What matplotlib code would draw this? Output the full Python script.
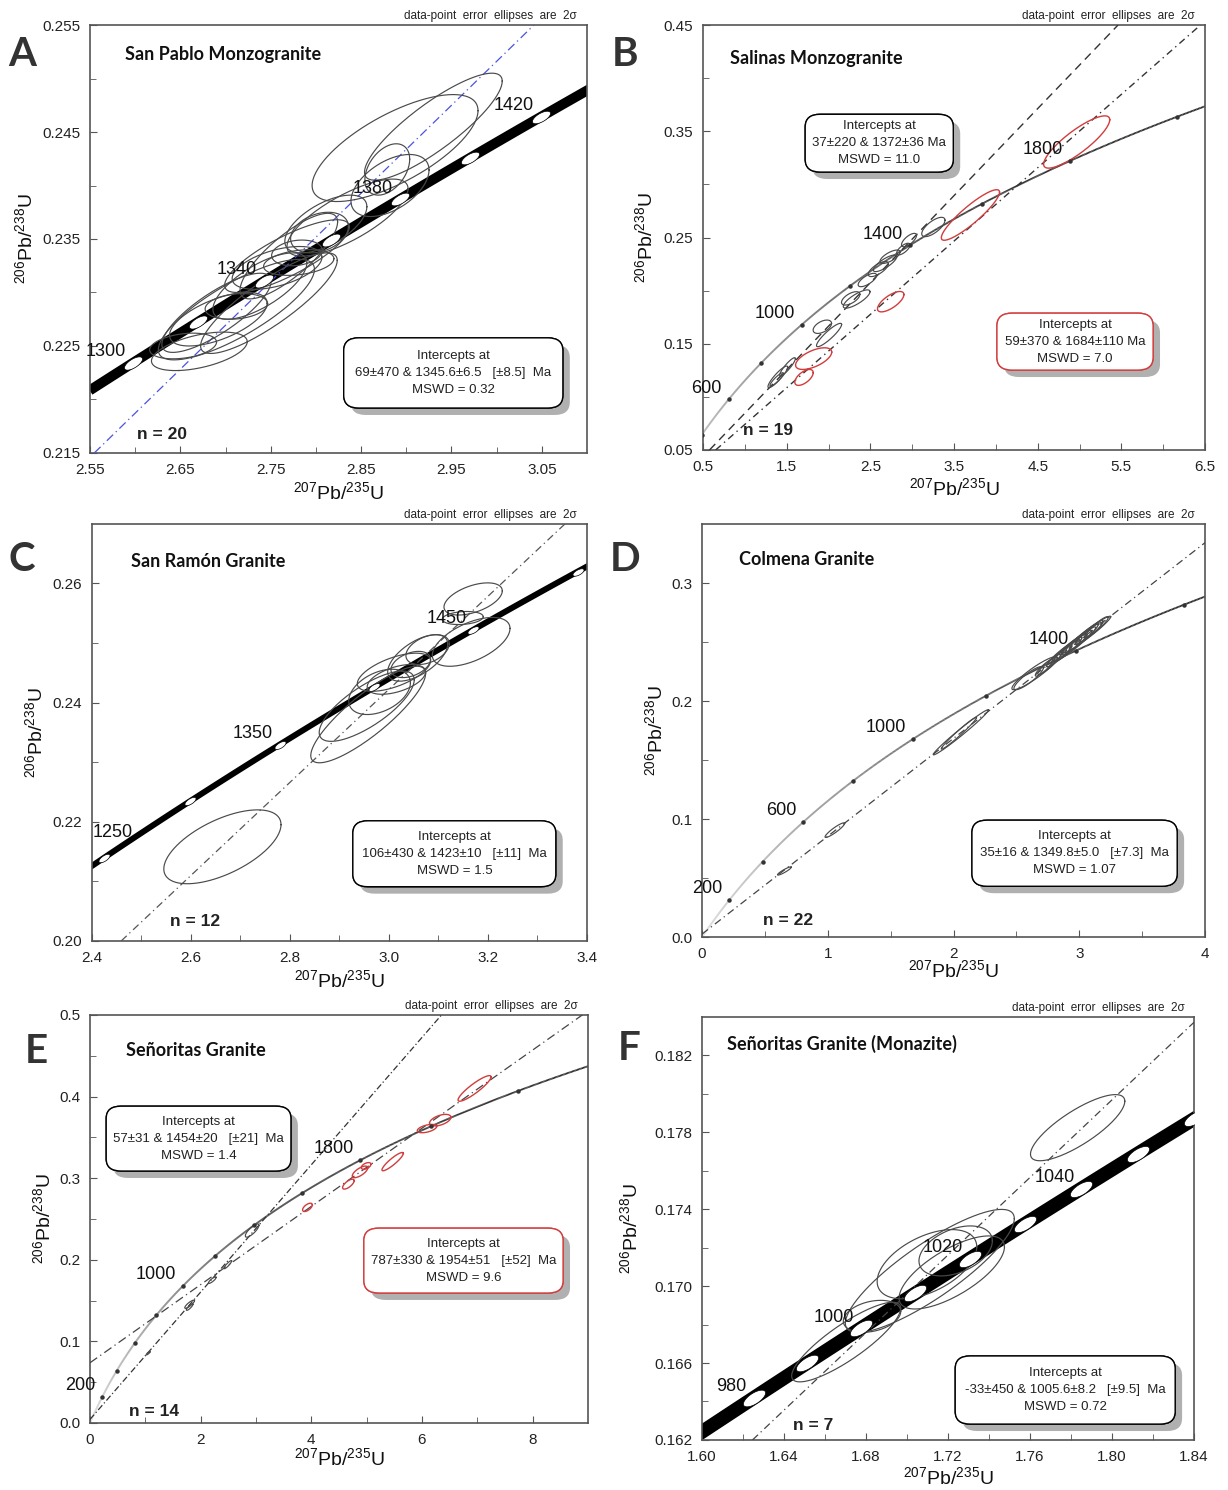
import numpy as np
import matplotlib
matplotlib.use("Agg")
import matplotlib.pyplot as plt
import matplotlib.patheffects as pe
from matplotlib import font_manager
from matplotlib.collections import LineCollection
from matplotlib.patches import FancyBboxPatch
from matplotlib.path import Path

# U decay constants (1/yr)
L238 = 1.55125e-10
L235 = 9.8485e-10

_names = {f.name for f in font_manager.fontManager.ttflist}
NARROW = "Liberation Sans Narrow" if "Liberation Sans Narrow" in _names else "Liberation Sans"
plt.rcParams["font.family"] = ["Liberation Sans", "DejaVu Sans"]
plt.rcParams["mathtext.fontset"] = "custom"
plt.rcParams["mathtext.rm"] = "Liberation Sans"
plt.rcParams["mathtext.it"] = "Liberation Sans:italic"

# ---------------- data ----------------
# ellipses: (207/235, 206/238, 2s x, 2s y, rho)
A_ell = [(2.8876, 0.2435, 0.0918, 0.0050, 0.70), (2.930, 0.2455, 0.0762, 0.0050, 0.85),
         (2.879, 0.2415, 0.0248, 0.0024, 0.40), (2.882, 0.2400, 0.0432, 0.0029, 0.50),
         (2.835, 0.2370, 0.0670, 0.0036, 0.75), (2.811, 0.2364, 0.0454, 0.0027, 0.60),
         (2.804, 0.2356, 0.0320, 0.0019, 0.30), (2.768, 0.2334, 0.0690, 0.0034, 0.80),
         (2.757, 0.2323, 0.0497, 0.0020, 0.50), (2.781, 0.2328, 0.0389, 0.0012, 0.30),
         (2.779, 0.2337, 0.0280, 0.0012, 0.20), (2.748, 0.2290, 0.0756, 0.0047, 0.85),
         (2.738, 0.2306, 0.0520, 0.0031, 0.70), (2.712, 0.2287, 0.0346, 0.0012, 0.20),
         (2.690, 0.2281, 0.0605, 0.0037, 0.80), (2.692, 0.2275, 0.0540, 0.0025, 0.60),
         (2.671, 0.2245, 0.0530, 0.0018, 0.50), (2.712, 0.2284, 0.0864, 0.0047, 0.80),
         (2.770, 0.2334, 0.0540, 0.0040, 0.80), (2.653, 0.2250, 0.0370, 0.0012, 0.30)]

B_ell = [(3.253, 0.2599, 0.139, 0.0091, 0.70), (2.962, 0.2476, 0.090, 0.0063, 0.70),
         (2.894, 0.2391, 0.080, 0.0055, 0.70), (2.735, 0.2319, 0.120, 0.0063, 0.70),
         (2.675, 0.2257, 0.140, 0.0078, 0.80), (2.595, 0.2203, 0.120, 0.0071, 0.70),
         (2.464, 0.2100, 0.110, 0.0063, 0.70), (2.336, 0.1921, 0.160, 0.0086, 0.80),
         (2.265, 0.1927, 0.110, 0.0063, 0.60), (1.926, 0.1660, 0.110, 0.0063, 0.50),
         (2.006, 0.1582, 0.150, 0.0110, 0.90), (1.394, 0.1188, 0.118, 0.0102, 0.90),
         (1.380, 0.1164, 0.080, 0.0063, 0.90), (1.510, 0.1283, 0.094, 0.0086, 0.90)]
B_red = [(4.966, 0.3399, 0.395, 0.0246, 0.85), (3.696, 0.2712, 0.348, 0.0238, 0.90),
         (2.743, 0.1896, 0.158, 0.0096, 0.70), (1.822, 0.1360, 0.216, 0.0102, 0.60),
         (1.707, 0.1183, 0.110, 0.0075, 0.60)]

C_ell = [(2.6635, 0.2158, 0.1184, 0.0062, 0.60), (3.170, 0.2574, 0.0589, 0.0027, 0.50),
         (3.149, 0.2542, 0.0414, 0.0011, 0.20), (3.166, 0.2502, 0.0785, 0.0041, 0.55),
         (3.078, 0.2489, 0.0438, 0.0025, 0.40), (3.058, 0.2475, 0.0606, 0.0039, 0.60),
         (3.010, 0.2451, 0.0740, 0.0032, 0.60), (2.981, 0.2418, 0.0623, 0.0038, 0.40),
         (3.015, 0.2439, 0.0590, 0.0025, 0.50), (2.955, 0.2394, 0.0960, 0.0059, 0.75),
         (2.958, 0.2380, 0.1160, 0.0081, 0.85), (3.044, 0.2464, 0.0400, 0.0022, 0.40)]

D_ell = [(0.655, 0.0560, 0.055, 0.0035, 0.92), (1.056, 0.0906, 0.078, 0.0062, 0.92),
         (2.058, 0.1735, 0.219, 0.0191, 0.985), (2.042, 0.1727, 0.140, 0.0135, 0.98),
         (2.644, 0.2236, 0.180, 0.0140, 0.92), (2.597, 0.2194, 0.117, 0.0099, 0.88),
         (2.72, 0.2281, 0.07, 0.0070, 0.90), (2.76, 0.2310, 0.09, 0.0085, 0.92),
         (2.80, 0.2350, 0.06, 0.0060, 0.90), (2.84, 0.2385, 0.10, 0.0095, 0.93),
         (2.87, 0.2402, 0.07, 0.0065, 0.90), (2.90, 0.2432, 0.12, 0.0110, 0.94),
         (2.93, 0.2450, 0.08, 0.0070, 0.90), (2.96, 0.2482, 0.10, 0.0090, 0.92),
         (2.99, 0.2500, 0.07, 0.0065, 0.90), (3.02, 0.2533, 0.13, 0.0120, 0.95),
         (3.05, 0.2553, 0.08, 0.0075, 0.92), (3.08, 0.2582, 0.11, 0.0100, 0.93),
         (3.11, 0.2600, 0.07, 0.0065, 0.90), (3.06, 0.2563, 0.19, 0.0156, 0.97),
         (2.95, 0.2470, 0.15, 0.0130, 0.95), (3.14, 0.2630, 0.09, 0.0085, 0.92)]

E_ell = [(2.93, 0.2358, 0.123, 0.0081, 0.80), (2.49, 0.1940, 0.070, 0.0050, 0.90),
         (2.21, 0.1750, 0.070, 0.0040, 0.85), (1.80, 0.1455, 0.088, 0.0050, 0.85),
         (1.80, 0.1420, 0.060, 0.0040, 0.85), (1.05, 0.0854, 0.035, 0.0020, 0.85)]
E_red = [(3.93, 0.2642, 0.088, 0.0051, 0.60), (4.67, 0.2927, 0.105, 0.0061, 0.70),
         (4.88, 0.3077, 0.140, 0.0071, 0.70), (4.99, 0.3150, 0.088, 0.0041, 0.50),
         (5.47, 0.3203, 0.193, 0.0112, 0.90), (6.09, 0.3608, 0.175, 0.0051, 0.50),
         (6.33, 0.3711, 0.193, 0.0071, 0.50), (6.95, 0.4100, 0.298, 0.0157, 0.90)]

F_ell = [(1.7832, 0.17824, 0.0230, 0.00172, 0.80), (1.6703, 0.16709, 0.0266, 0.00207, 0.85),
         (1.7111, 0.17079, 0.0412, 0.00320, 0.85), (1.7097, 0.17114, 0.0243, 0.00180, 0.50),
         (1.7237, 0.17183, 0.0179, 0.00130, 0.40), (1.7218, 0.17071, 0.0257, 0.00190, 0.70),
         (1.6829, 0.16843, 0.0140, 0.00083, 0.30)]

# discordia intercepts (Ma)
A_icpt = [(69, 1345.6)]
B_icpt = [(37, 1372), (59, 1684)]
C_icpt = [(106, 1423)]
D_icpt = [(35, 1349.8)]
E_icpt = [(57, 1454), (787, 1954)]
F_icpt = [(-33, 1005.6)]

# age ticks and labels on concordia (Ma)
A_ticks = [1300, 1320, 1340, 1360, 1380, 1400, 1420, 1440]
A_labels = [1300, 1340, 1380, 1420]
B_ticks = [200, 400, 600, 800, 1000, 1200, 1400, 1600, 1800, 2000, 2200]
B_labels = [600, 1000, 1400, 1800]
C_ticks = [1250, 1300, 1350, 1400, 1450, 1500]
C_labels = [1250, 1350, 1450]
D_ticks = [200, 400, 600, 800, 1000, 1200, 1400, 1600, 1800]
D_labels = [200, 600, 1000, 1400]
E_ticks = [200, 400, 600, 800, 1000, 1200, 1400, 1600, 1800, 2000, 2200, 2400]
E_labels = [200, 1000, 1800]
F_ticks = [980, 990, 1000, 1010, 1020, 1030, 1040, 1050, 1060]
F_labels = [980, 1000, 1020, 1040]

# axis ticks
A_xt = [2.55, 2.65, 2.75, 2.85, 2.95, 3.05]
A_xm = [2.60, 2.70, 2.80, 2.90, 3.00]
A_yt = [0.215, 0.225, 0.235, 0.245, 0.255]
A_ym = [0.220, 0.230, 0.240, 0.250]
B_xt = [0.5, 1.5, 2.5, 3.5, 4.5, 5.5, 6.5]
B_xm = [1, 2, 3, 4, 5, 6]
B_yt = [0.05, 0.15, 0.25, 0.35, 0.45]
B_ym = [0.10, 0.20, 0.30, 0.40]
C_xt = [2.4, 2.6, 2.8, 3.0, 3.2, 3.4]
C_xm = [2.5, 2.7, 2.9, 3.1, 3.3]
C_yt = [0.20, 0.22, 0.24, 0.26]
C_ym = [0.21, 0.23, 0.25]
D_xt = [0, 1, 2, 3, 4]
D_xm = [0.5, 1.5, 2.5, 3.5]
D_yt = [0.0, 0.1, 0.2, 0.3]
D_ym = [0.05, 0.15, 0.25]
E_xt = [0, 2, 4, 6, 8]
E_xm = [1, 3, 5, 7]
E_yt = [0.0, 0.1, 0.2, 0.3, 0.4, 0.5]
E_ym = [0.05, 0.15, 0.25, 0.35, 0.45]
F_xt = [1.60, 1.64, 1.68, 1.72, 1.76, 1.80, 1.84]
F_xm = [1.62, 1.66, 1.70, 1.74, 1.78, 1.82]
F_yt = [0.162, 0.166, 0.170, 0.174, 0.178, 0.182]
F_ym = [0.164, 0.168, 0.172, 0.176, 0.180]

A_box = [["Intercepts at", "69±470 & 1345.6±6.5   [±8.5]  Ma", "MSWD = 0.32"]]
B_box = [["Intercepts at", "37±220 & 1372±36 Ma", "MSWD = 11.0"],
         ["Intercepts at", "59±370 & 1684±110 Ma", "MSWD = 7.0"]]
C_box = [["Intercepts at", "106±430 & 1423±10   [±11]  Ma", "MSWD = 1.5"]]
D_box = [["Intercepts at", "35±16 & 1349.8±5.0   [±7.3]  Ma", "MSWD = 1.07"]]
E_box = [["Intercepts at", "57±31 & 1454±20   [±21]  Ma", "MSWD = 1.4"],
         ["Intercepts at", "787±330 & 1954±51   [±52]  Ma", "MSWD = 9.6"]]
F_box = [["Intercepts at", "-33±450 & 1005.6±8.2   [±9.5]  Ma", "MSWD = 0.72"]]


def conc(t_ma):
    t = np.asarray(t_ma, dtype=float) * 1e6
    return np.exp(L235 * t) - 1, np.exp(L238 * t) - 1


def ellipse_xy(x, y, ex, ey, rho):
    th = np.linspace(0, 2 * np.pi, 160)
    return x + ex * np.cos(th), y + ey * (rho * np.cos(th) + np.sqrt(1 - rho ** 2) * np.sin(th))


def oval(angle, aspect=0.42):
    th = np.linspace(0, 2 * np.pi, 41)
    u, v = np.cos(th), aspect * np.sin(th)
    a = np.radians(angle)
    return Path(np.column_stack([u * np.cos(a) - v * np.sin(a), u * np.sin(a) + v * np.cos(a)]))


RED = "#d23c3c"
fig = plt.figure(figsize=(12.28, 14.90), dpi=100)
renderer = fig.canvas.get_renderer()

panels = [
    dict(key="A", pos=[0.0733, 0.6960, 0.4047, 0.2872], xlim=(2.55, 3.10), ylim=(0.215, 0.255),
         xt=A_xt, xm=A_xm, yt=A_yt, ym=A_ym, xf="%.2f", yf="%.3f",
         ell=A_ell, red=[], icpt=A_icpt, lines=[dict(color="#4a52e0", ls=(0, (7, 3, 1, 3)), lw=0.9)],
         ticks=A_ticks, labels=A_labels, band=7.2, oval_ms=13,
         title="San Pablo Monzogranite", tpos=(0.070, 0.930), n="n = 20", npos=(0.095, 0.044),
         boxes=A_box, bpos=[(0.731, 0.187, 0.441, 0.164, "k")],
         letter_xy=(0.0179, 0.9631), ylc=-0.131, xlc=-0.091),
    dict(key="B", pos=[0.5725, 0.6980, 0.4088, 0.2852], xlim=(0.5, 6.5), ylim=(0.05, 0.45),
         xt=B_xt, xm=B_xm, yt=B_yt, ym=B_ym, xf="%.1f", yf="%.2f",
         ell=B_ell, red=B_red, icpt=B_icpt,
         lines=[dict(color="#333333", ls=(0, (6, 4)), lw=1.0),
                dict(color="#333333", ls=(0, (5, 3, 1, 3)), lw=1.0)],
         ticks=B_ticks, labels=B_labels, band=None,
         title="Salinas Monzogranite", tpos=(0.054, 0.922), n="n = 19", npos=(0.080, 0.047),
         boxes=B_box, bpos=[(0.351, 0.722, 0.295, 0.136, "k"), (0.741, 0.255, 0.311, 0.134, RED)],
         letter_xy=(0.509, 0.9631), ylc=-0.116, xlc=-0.089),
    dict(key="C", pos=[0.0749, 0.3685, 0.4031, 0.2799], xlim=(2.4, 3.4), ylim=(0.20, 0.27),
         xt=C_xt, xm=C_xm, yt=C_yt, ym=C_ym, xf="%.1f", yf="%.2f",
         ell=C_ell, red=[], icpt=C_icpt, lines=[dict(color="#555555", ls=(0, (6, 3, 1, 3)), lw=0.9)],
         ticks=C_ticks, labels=C_labels, band=4.3, oval_ms=8,
         title="San Ramón Granite", tpos=(0.079, 0.911), n="n = 12", npos=(0.158, 0.046),
         boxes=C_box, bpos=[(0.732, 0.209, 0.410, 0.158, "k")],
         letter_xy=(0.0179, 0.6242), ylc=-0.115, xlc=-0.094),
    dict(key="D", pos=[0.5717, 0.3711, 0.4096, 0.2772], xlim=(0, 4), ylim=(0, 0.35),
         xt=D_xt, xm=D_xm, yt=D_yt, ym=D_ym, xf="%d", yf="%.1f",
         ell=D_ell, red=[], icpt=D_icpt, lines=[dict(color="#444444", ls=(0, (6, 3, 1, 3)), lw=0.9)],
         ticks=D_ticks, labels=D_labels, band=None,
         title="Colmena Granite", tpos=(0.0736, 0.915), n="n = 22", npos=(0.121, 0.041),
         boxes=D_box, bpos=[(0.7406, 0.203, 0.408, 0.160, "k")],
         letter_xy=(0.509, 0.6242), ylc=-0.093, xlc=-0.080),
    dict(key="E", pos=[0.0733, 0.0450, 0.4055, 0.2738], xlim=(0, 9), ylim=(0, 0.5),
         xt=E_xt, xm=E_xm, yt=E_yt, ym=E_ym, xf="%d", yf="%.1f",
         ell=E_ell, red=E_red, icpt=E_icpt,
         lines=[dict(color="#333333", ls=(0, (5, 2, 1, 2)), lw=0.9),
                dict(color="#444444", ls=(0, (7, 3, 1, 3)), lw=0.9)],
         ticks=E_ticks, labels=E_labels, band=None,
         title="Señoritas Granite", tpos=(0.072, 0.912), n="n = 14", npos=(0.078, 0.027),
         boxes=E_box, bpos=[(0.218, 0.697, 0.371, 0.159, "k"), (0.750, 0.398, 0.400, 0.159, RED)],
         letter_xy=(0.0293, 0.2946), ylc=-0.094, xlc=-0.086),
    dict(key="F", pos=[0.5717, 0.0336, 0.4007, 0.2839], xlim=(1.60, 1.84), ylim=(0.162, 0.184),
         xt=F_xt, xm=F_xm, yt=F_yt, ym=F_ym, xf="%.2f", yf="%.3f",
         ell=F_ell, red=[], icpt=F_icpt, lines=[dict(color="#444444", ls=(0, (6, 3, 1, 3)), lw=0.9)],
         ticks=F_ticks, labels=F_labels, band=10.0, oval_ms=16,
         title="Señoritas Granite (Monazite)", tpos=(0.051, 0.936), n="n = 7", npos=(0.185, 0.033),
         boxes=F_box, bpos=[(0.738, 0.118, 0.447, 0.161, "k")],
         letter_xy=(0.5122, 0.296), ylc=-0.146, xlc=-0.087),
]

for p in panels:
    ax = fig.add_axes(p["pos"])
    ax.set_xlim(*p["xlim"])
    ax.set_ylim(*p["ylim"])
    ax.set_xticks(p["xt"])
    ax.set_xticklabels([p["xf"] % v for v in p["xt"]], family=NARROW)
    ax.set_xticks(p["xm"], minor=True)
    ax.set_yticks(p["yt"])
    ax.set_yticklabels([p["yf"] % v for v in p["yt"]], family=NARROW)
    ax.set_yticks(p["ym"], minor=True)
    ax.tick_params(which="both", direction="in", top=False, right=False,
                   labelsize=11, pad=7, color="#555555", labelcolor="#222222")
    ax.tick_params(which="major", length=5)
    ax.tick_params(which="minor", length=4)
    for s in ax.spines.values():
        s.set_color("#555555")
        s.set_linewidth(1.2)

    ax.set_xlabel(r"$^{207}$Pb/$^{235}$U", fontsize=14, color="#111111")
    ax.set_ylabel(r"$^{206}$Pb/$^{238}$U", fontsize=14, color="#111111")
    ax.xaxis.set_label_coords(0.5, p["xlc"])
    ax.xaxis.label.set_verticalalignment("center")
    ax.yaxis.set_label_coords(p["ylc"], 0.5)
    ax.yaxis.label.set_verticalalignment("center")

    # concordia
    ts = np.linspace(0, 4600, 2000)
    cx, cy = conc(ts)
    if p["band"]:
        ax.plot(cx, cy, color="black", lw=p["band"], solid_capstyle="butt", zorder=2)
    else:
        pts = np.column_stack([cx, cy]).reshape(-1, 1, 2)
        segs = np.concatenate([pts[:-1], pts[1:]], axis=1)
        g = np.clip(0.85 - 0.68 * ts[:-1] / 1500.0, 0.17, 0.85)
        lc = LineCollection(segs, colors=np.column_stack([g, g, g]), linewidths=1.3, zorder=2)
        ax.add_collection(lc)

    # discordia lines
    for (t1, t2), st in zip(p["icpt"], p["lines"]):
        x1, y1 = conc(t1)
        x2, y2 = conc(t2)
        ax.axline((float(x1), float(y1)), (float(x2), float(y2)), zorder=3, **st)

    # error ellipses
    for e in p["ell"]:
        ex, ey = ellipse_xy(*e)
        ax.plot(ex, ey, color="#4a4a4a", lw=0.85, zorder=4)
    for e in p["red"]:
        ex, ey = ellipse_xy(*e)
        ax.plot(ex, ey, color=RED, lw=1.0, zorder=4)

    # age marks
    tx, ty = conc(p["ticks"])
    if p["band"]:
        for t, x, y in zip(p["ticks"], tx, ty):
            a, b = ax.transData.transform(np.column_stack(conc([t - 2, t + 2])))
            ang = np.degrees(np.arctan2(b[1] - a[1], b[0] - a[0]))
            ax.plot([x], [y], ls="none", marker=oval(ang), ms=p["oval_ms"],
                    mfc="white", mec="black", mew=0.5, zorder=5)
    else:
        ax.plot(tx, ty, ls="none", marker="o", ms=2.2, color="#333333", zorder=5)
    lx, ly = conc(p["labels"])
    ax_left = ax.get_window_extent(renderer).x0
    for t, x, y in zip(p["labels"], lx, ly):
        ann = ax.annotate(str(t), (x, y), xytext=(-5, 2), textcoords="offset points",
                          ha="right", va="bottom", fontsize=13, color="#111111", zorder=6)
        # pull labels that would sit on the y tick labels back inside the frame
        bb = ann.get_window_extent(renderer)
        if bb.x0 < ax_left - 30:
            ann.xyann = (-5 + (ax_left + 1 - bb.x0) * 0.72, 12)

    # intercept boxes
    for lines, (bx, by, bw, bh, ec) in zip(p["boxes"], p["bpos"]):
        patch = FancyBboxPatch((bx - bw / 2, by - bh / 2), bw, bh,
                               boxstyle="round,pad=0,rounding_size=0.03",
                               transform=ax.transAxes, fc="white", ec=ec, lw=1.0, zorder=7)
        patch.set_path_effects([pe.withSimplePatchShadow(offset=(5, -5), shadow_rgbFace="#a8a8a8",
                                                         alpha=0.9), pe.Normal()])
        ax.add_patch(patch)
        ax.text(bx, by, "\n".join(lines), transform=ax.transAxes, ha="center", va="center",
                fontsize=9.5, linespacing=1.55, family=NARROW, color="#222222", zorder=8)

    ax.text(p["tpos"][0], p["tpos"][1], p["title"], transform=ax.transAxes, ha="left",
            va="center", fontsize=13, fontweight="bold", family=["Lato", "DejaVu Sans"],
            color="#111111")
    ax.text(p["npos"][0], p["npos"][1], p["n"], transform=ax.transAxes, ha="left",
            va="center", fontsize=12.5, fontweight="bold", color="#222222")
    ax.text(0.98, 1.008, "data-point  error  ellipses  are  2σ", transform=ax.transAxes,
            ha="right", va="bottom", fontsize=8.5, family=NARROW, color="#222222")
    fig.text(p["letter_xy"][0], p["letter_xy"][1], p["key"], ha="center", va="center",
             fontsize=29, fontweight="bold", family=["Lato", "DejaVu Sans"], color="#333333")

fig.savefig("out.png", dpi=100, facecolor="white")
